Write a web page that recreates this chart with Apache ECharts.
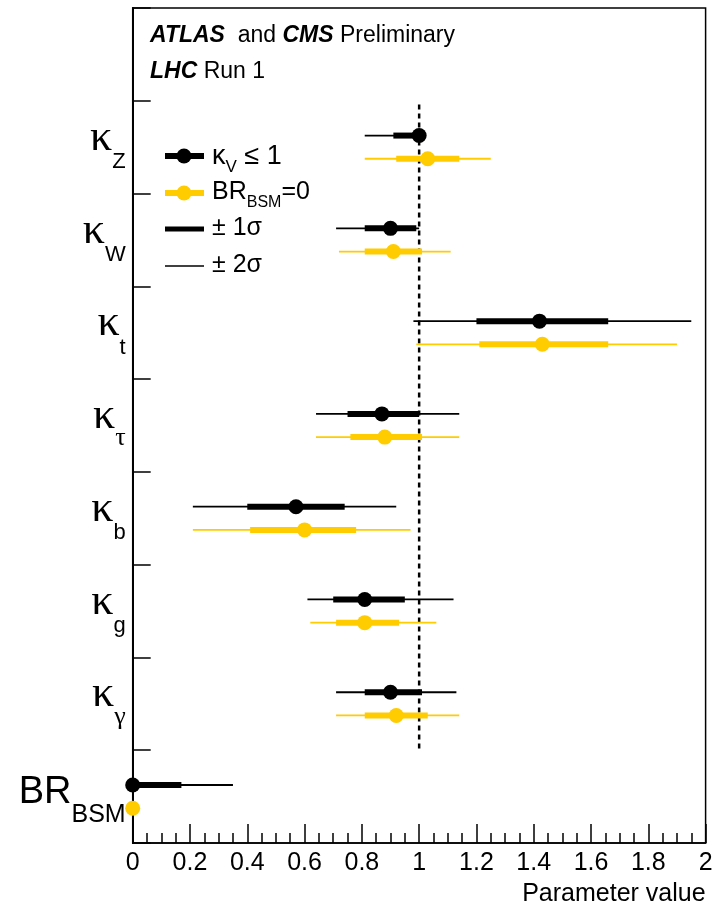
<!DOCTYPE html>
<html>
<head>
<meta charset="utf-8">
<script src="https://cdn.jsdelivr.net/npm/echarts@6/dist/echarts.min.js"></script>
<style>
html,body{margin:0;padding:0;background:#fff;}
#c{width:722px;height:910px;}
</style>
</head>
<body>
<div id="c"></div>
<script>
// ---- data ----
var rowLabels = ['', 'kZ', 'kW', 'kt', 'ktau', 'kb', 'kg', 'kgamma', 'BRBSM'];
var xTicks = [0, 0.2, 0.4, 0.6, 0.8, 1, 1.2, 1.4, 1.6, 1.8, 2];
// kappa_V <= 1 (black)
var blackVal  = [1.00, 0.90, 1.42, 0.87, 0.57, 0.81, 0.90, 0.00];
var black1Lo  = [0.91, 0.81, 1.20, 0.75, 0.40, 0.70, 0.81, 0.00];
var black1Hi  = [1.00, 0.99, 1.66, 1.00, 0.74, 0.95, 1.01, 0.17];
var black2Lo  = [0.81, 0.71, 0.98, 0.64, 0.21, 0.61, 0.71, 0.00];
var black2Hi  = [1.00, 1.00, 1.95, 1.14, 0.92, 1.12, 1.13, 0.35];
// BR_BSM = 0 (yellow)
var yelVal    = [1.03, 0.91, 1.43, 0.88, 0.60, 0.81, 0.92, 0.00];
var yel1Lo    = [0.92, 0.81, 1.21, 0.76, 0.41, 0.71, 0.81, 0.00];
var yel1Hi    = [1.14, 1.01, 1.66, 1.01, 0.78, 0.93, 1.03, 0.00];
var yel2Lo    = [0.81, 0.72, 0.99, 0.64, 0.21, 0.62, 0.71, 0.00];
var yel2Hi    = [1.25, 1.11, 1.90, 1.14, 0.97, 1.06, 1.14, 0.00];
var refLineX  = [1, 1];
var refLineY  = [1.04, 8];

var BLACK = '#000000', YEL = '#FFCC00';
var SANS = '"Liberation Sans", Arial, Helvetica, sans-serif';
var SERIF = '"Liberation Serif", "Times New Roman", serif';

function buildData(v, l1, h1, l2, h2) {
  var d = [];
  for (var i = 0; i < v.length; i++) d.push([i + 1, l2[i], l1[i], v[i], h1[i], h2[i]]);
  return d;
}

function makeRender(color, offset) {
  return function (params, api) {
    var row = api.value(0) + 0.5 + offset;
    var p2l = api.coord([api.value(1), row]);
    var p1l = api.coord([api.value(2), row]);
    var pv  = api.coord([api.value(3), row]);
    var p1h = api.coord([api.value(4), row]);
    var p2h = api.coord([api.value(5), row]);
    var ch = [];
    if (p2h[0] - p2l[0] > 0.5) ch.push({type:'line', shape:{x1:p2l[0],y1:p2l[1],x2:p2h[0],y2:p2h[1]}, style:{stroke:color, lineWidth:1.8}});
    if (p1h[0] - p1l[0] > 0.5) ch.push({type:'line', shape:{x1:p1l[0],y1:p1l[1],x2:p1h[0],y2:p1h[1]}, style:{stroke:color, lineWidth:6}});
    ch.push({type:'circle', shape:{cx:pv[0], cy:pv[1], r:7.5}, style:{fill:color}});
    return {type:'group', children: ch};
  };
}

var labelMap = {
  'kZ': '{k|κ}{s|Z}',
  'kW': '{k|κ}{s|W}',
  'kt': '{k|κ}{s|t}',
  'ktau': '{k|κ}{g|τ}',
  'kb': '{k|κ}{s|b}',
  'kg': '{k|κ}{s|g}',
  'kgamma': '{k|κ}{g|γ}',
  'BRBSM': '{b|BR}{bs|BSM}',
  '': ''
};

var catData = rowLabels.map(function (r) {
  return r === 'BRBSM' ? {value: r, textStyle: {padding: [30, 0, 0, 0]}} : r;
});

var chart = echarts.init(document.getElementById('c'), null, {renderer:'canvas'});
var option = {
  backgroundColor: '#fff',
  animation: false,
  grid: {left: 132.7, right: 16.4, top: 8, bottom: 67, show: true, borderColor: '#000', borderWidth: 1.5, backgroundColor: 'transparent'},
  xAxis: {
    type: 'value', min: 0, max: 2, interval: 0.2,
    name: 'Parameter value', nameLocation: 'end',
    nameGap: 0,
    nameTextStyle: {fontFamily: SANS, fontSize: 25, color: '#000', align: 'right', verticalAlign: 'top', padding: [39, 0, 0, 0]},
    axisLine: {show: true, onZero: false, lineStyle: {color: '#000', width: 1.5}},
    axisTick: {show: true, inside: true, length: 19, lineStyle: {color: '#000', width: 1.5}},
    minorTick: {show: true, splitNumber: 4, length: 10, lineStyle: {color: '#000', width: 1.5}},
    splitLine: {show: false},
    axisLabel: {fontFamily: SANS, fontSize: 25, color: '#000', margin: 8,
      formatter: function (v) { return xTicks.indexOf(Math.round(v*10)/10) >= 0 ? String(Math.round(v*10)/10) : ''; }}
  },
  yAxis: [
    {
      type: 'category', inverse: true, data: catData,
      axisLine: {show: true, lineStyle: {color: '#000', width: 2}},
      axisTick: {show: true, inside: true, length: 18, lineStyle: {color: '#000', width: 1.5}},
      splitLine: {show: false},
      axisLabel: {
        margin: 7,
        padding: [20, 0, 0, 0],
        formatter: function (v) { return labelMap[v]; },
        rich: {
          k: {fontFamily: SERIF, fontSize: 44, color: '#000', lineHeight: 40, verticalAlign: 'bottom', padding: [0, 0, 17, 0]},
          s: {fontFamily: SANS, fontSize: 22, color: '#000', lineHeight: 22, verticalAlign: 'bottom', padding: [0, 0, 4, 0]},
          g: {fontFamily: SERIF, fontSize: 26, color: '#000', lineHeight: 22, verticalAlign: 'bottom', padding: [0, 0, 4, 0]},
          b: {fontFamily: SANS, fontSize: 38, color: '#000', lineHeight: 40, verticalAlign: 'bottom', padding: [0, 0, 20, 0]},
          bs: {fontFamily: SANS, fontSize: 25, color: '#000', lineHeight: 22, verticalAlign: 'bottom', padding: [0, 0, 4, 0]}
        }
      }
    },
    {type: 'value', inverse: true, min: 0, max: 9, show: false}
  ],
  series: [
    {
      type: 'line', yAxisIndex: 1, symbol: 'none', silent: true,
      data: [[refLineX[0], refLineY[0]], [refLineX[1], refLineY[1]]],
      lineStyle: {color: '#000', width: 2.5, type: [5, 4]}, z: 1
    },
    {
      type: 'custom', yAxisIndex: 1, clip: false, z: 3,
      renderItem: makeRender(BLACK, -0.125),
      encode: {x: [1, 2, 3, 4, 5], y: 0},
      data: buildData(blackVal, black1Lo, black1Hi, black2Lo, black2Hi)
    },
    {
      type: 'custom', yAxisIndex: 1, clip: false, z: 3,
      renderItem: makeRender(YEL, 0.125),
      encode: {x: [1, 2, 3, 4, 5], y: 0},
      data: buildData(yelVal, yel1Lo, yel1Hi, yel2Lo, yel2Hi)
    }
  ],
  graphic: [
    {type: 'text', left: 150, top: 24, style: {
      text: '{bi|ATLAS}{n|  and }{bi|CMS}{n| Preliminary}',
      rich: {bi: {fontFamily: SANS, fontSize: 23, fontWeight: 'bold', fontStyle: 'italic', fill: '#000'},
             n: {fontFamily: SANS, fontSize: 23, fill: '#000'}}}},
    {type: 'text', left: 150, top: 60, style: {
      text: '{bi|LHC}{n| Run 1}',
      rich: {bi: {fontFamily: SANS, fontSize: 23, fontWeight: 'bold', fontStyle: 'italic', fill: '#000'},
             n: {fontFamily: SANS, fontSize: 23, fill: '#000'}}}},
    // legend
    {type: 'line', shape: {x1: 165, y1: 156, x2: 204, y2: 156}, style: {stroke: BLACK, lineWidth: 6}},
    {type: 'circle', shape: {cx: 184, cy: 156, r: 7.5}, style: {fill: BLACK}},
    {type: 'line', shape: {x1: 165, y1: 193, x2: 204, y2: 193}, style: {stroke: YEL, lineWidth: 6}},
    {type: 'circle', shape: {cx: 184, cy: 193, r: 7.5}, style: {fill: YEL}},
    {type: 'line', shape: {x1: 165, y1: 229, x2: 204, y2: 229}, style: {stroke: BLACK, lineWidth: 5}},
    {type: 'line', shape: {x1: 165, y1: 266, x2: 204, y2: 266}, style: {stroke: BLACK, lineWidth: 1.5}},
    {type: 'text', left: 212, top: 143, style: {
      text: '{m|κ}{s|V}{m| ≤ 1}',
      rich: {m: {fontFamily: SANS, fontSize: 27, fill: '#000', lineHeight: 28, verticalAlign: 'bottom', padding: [0, 0, 6, 0]},
             s: {fontFamily: SANS, fontSize: 17, fill: '#000', lineHeight: 16, verticalAlign: 'bottom'}}}},
    {type: 'text', left: 212, top: 180, style: {
      text: '{m|BR}{s|BSM}{m|=0}',
      rich: {m: {fontFamily: SANS, fontSize: 25, fill: '#000', lineHeight: 28, verticalAlign: 'bottom', padding: [0, 0, 6, 0]},
             s: {fontFamily: SANS, fontSize: 16, fill: '#000', lineHeight: 16, verticalAlign: 'bottom'}}}},
    {type: 'text', left: 212, top: 216, style: {text: '± 1σ', fontFamily: SANS, fontSize: 25, fill: '#000'}},
    {type: 'text', left: 212, top: 253, style: {text: '± 2σ', fontFamily: SANS, fontSize: 25, fill: '#000'}}
  ]
};
chart.setOption(option);
</script>
</body>
</html>
